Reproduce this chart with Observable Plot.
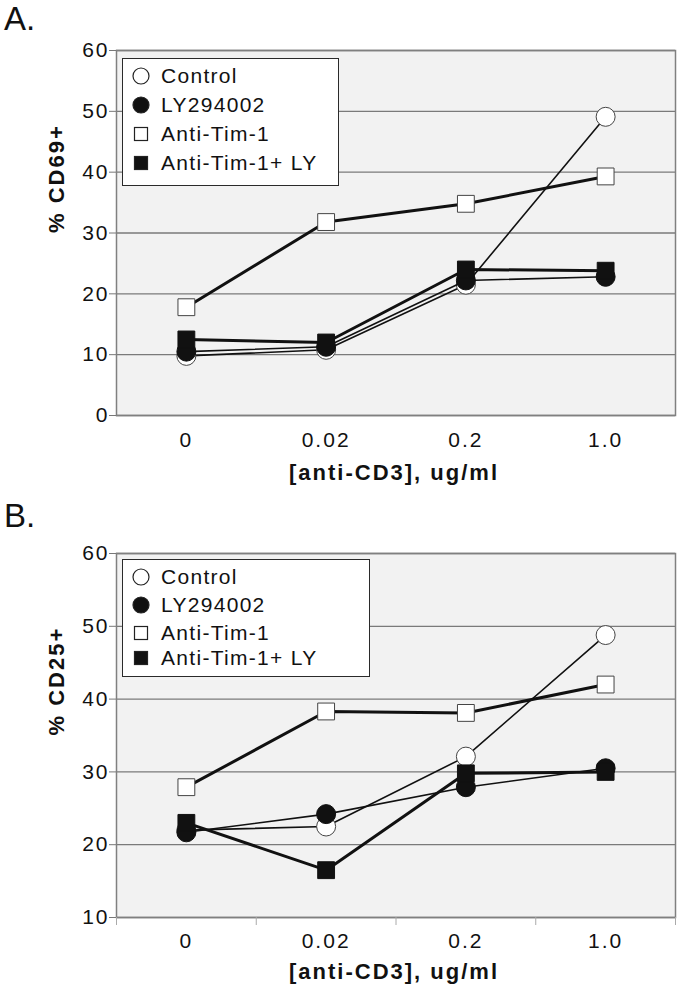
<!DOCTYPE html>
<html>
<head>
<meta charset="utf-8">
<script src="https://cdn.jsdelivr.net/npm/d3@7"></script>
<script src="https://cdn.jsdelivr.net/npm/@observablehq/plot@0.6"></script>
<style>
  html, body { margin: 0; padding: 0; background: #fff; }
  #wrap { position: relative; width: 680px; height: 985px; font-family: "Liberation Sans", Arial, sans-serif; color: #111; }
  .panel { position: absolute; left: 0; }
  .tag { position: absolute; left: 4px; font-size: 33px; line-height: 1; }
  .legend { position: absolute; background: #fff; border: 1.5px solid #2a2a2a; box-sizing: border-box; }
  .legend .row { position: absolute; left: 0; height: 26px; display: flex; align-items: center; font-size: 21px; letter-spacing: 1.3px; }
  .legend svg { display: block; margin-left: 8px; margin-right: 10px; }
</style>
</head>
<body>
<div id="wrap">
  <div class="tag" style="top:2px">A.</div>
  <div class="tag" style="top:499px">B.</div>
  <div id="panelA" class="panel" style="top:0"></div>
  <div id="panelB" class="panel" style="top:490px"></div>
  <div id="legendA" class="legend" style="left:122px;top:58px;width:217px;height:128px"></div>
  <div id="legendB" class="legend" style="left:122px;top:559px;width:248px;height:118px"></div>
</div>
<script>
// ---- data ----
const doses = ["0", "0.02", "0.2", "1.0"];
const series = ["Control", "LY294002", "Anti-Tim-1", "Anti-Tim-1+ LY"];

// Panel A: % CD69+
const cd69Control = [9.8, 10.8, 21.5, 49.1];
const cd69LY      = [10.5, 11.3, 22.2, 22.8];
const cd69Tim     = [17.8, 31.8, 34.8, 39.3];
const cd69TimLY   = [12.5, 12.0, 24.0, 23.8];

// Panel B: % CD25+
const cd25Control = [22.0, 22.5, 32.1, 48.8];
const cd25LY      = [21.7, 24.2, 27.9, 30.5];
const cd25Tim     = [27.9, 38.3, 38.1, 42.0];
const cd25TimLY   = [23.0, 16.5, 29.8, 30.0];

const yTicksA = [0, 10, 20, 30, 40, 50, 60];
const yTicksB = [10, 20, 30, 40, 50, 60];
const xTitle = "[anti-CD3], ug/ml";
const yTitleA = "% CD69+";
const yTitleB = "% CD25+";

// ---- styles per series ----
const symbols = ["circle", "circle", "square", "square"];
const fills = ["#ffffff", "#111111", "#ffffff", "#111111"];
const lineWidths = [1.6, 1.6, 3, 3];

function rows(valueLists) {
  return series.flatMap((s, i) => valueLists[i].map((v, j) => ({series: s, k: i, x: j, v})));
}

function panel(valueLists, yDomain, yTicks, yTitle, opts) {
  const data = rows(valueLists);
  const seriesMarks = series.flatMap((s, i) => {
    const d = data.filter(r => r.k === i);
    return [
      Plot.line(d, {x: "x", y: "v", stroke: "#111", strokeWidth: lineWidths[i]}),
      Plot.dot(d, {x: "x", y: "v", symbol: symbols[i], r: 9.5, fill: fills[i], stroke: i % 2 === 0 ? "#444" : "#111", strokeWidth: 1})
    ];
  });
  const marks = [
    Plot.frame({fill: "#f2f2f2"}),
    Plot.gridY({ticks: yTicks, stroke: "#7a7a7a", strokeOpacity: 1, strokeWidth: 1.3}),
    Plot.frame({stroke: "#808080", strokeWidth: 1.5}),
    Plot.axisY({ticks: yTicks, tickSize: 7, tickPadding: 0, label: null, stroke: "#777"}),
    Plot.axisX({ticks: [0, 1, 2, 3], tickFormat: i => doses[i], tickSize: 0, tickPadding: opts.xPad, label: null})
  ];
  if (opts.boundaryTicks) {
    marks.push(Plot.axisX({ticks: [-0.5, 0.5, 1.5, 2.5, 3.5], tickFormat: () => "", tickSize: 8, stroke: "#aaaaaa", label: null}));
  }
  marks.push(...seriesMarks);
  marks.push(
    Plot.text([xTitle], {frameAnchor: "bottom", dy: opts.xTitleDy, dx: -2, lineAnchor: "middle", fontWeight: "bold", fontSize: 22}),
    Plot.text([yTitle], {frameAnchor: "left", dx: -60, rotate: -90, lineAnchor: "middle", fontWeight: "bold", fontSize: 22})
  );
  return Plot.plot({
    width: 680,
    height: opts.height,
    marginTop: opts.marginTop,
    marginBottom: opts.marginBottom,
    marginLeft: 116,
    marginRight: 5,
    x: {domain: [-0.5, 3.5]},
    y: {domain: yDomain},
    style: {fontFamily: "'Liberation Sans', Arial, sans-serif", fontSize: "21px", letterSpacing: "2px", color: "#111", background: "transparent", overflow: "visible"},
    marks
  });
}

document.getElementById("panelA").append(
  panel([cd69Control, cd69LY, cd69Tim, cd69TimLY], [0, 60], yTicksA, yTitleA,
        {height: 490, marginTop: 50, marginBottom: 75, xPad: 17, xTitleDy: 57, boundaryTicks: false})
);
document.getElementById("panelB").append(
  panel([cd25Control, cd25LY, cd25Tim, cd25TimLY], [10, 60], yTicksB, yTitleB,
        {height: 495, marginTop: 63, marginBottom: 68, xPad: 16, xTitleDy: 54, boundaryTicks: true})
);

// ---- legends ----
function legendSymbol(i) {
  const ns = "http://www.w3.org/2000/svg";
  const svg = document.createElementNS(ns, "svg");
  svg.setAttribute("width", 20); svg.setAttribute("height", 20);
  let el;
  if (symbols[i] === "circle") {
    el = document.createElementNS(ns, "circle");
    el.setAttribute("cx", 10); el.setAttribute("cy", 10); el.setAttribute("r", 8);
  } else {
    el = document.createElementNS(ns, "rect");
    el.setAttribute("x", 3.5); el.setAttribute("y", 3.5); el.setAttribute("width", 13); el.setAttribute("height", 13);
  }
  el.setAttribute("fill", fills[i]);
  el.setAttribute("stroke", "#222");
  el.setAttribute("stroke-width", 1.2);
  svg.append(el);
  return svg;
}
function legend(id, rowTops) {
  const box = document.getElementById(id);
  series.forEach((s, i) => {
    const row = document.createElement("div");
    row.className = "row";
    row.style.top = rowTops[i] + "px";
    row.append(legendSymbol(i));
    const t = document.createElement("span");
    t.textContent = s;
    row.append(t);
    box.append(row);
  });
}
legend("legendA", [4, 33, 62, 91]);
legend("legendB", [4, 32, 60, 85]);
</script>
</body>
</html>
